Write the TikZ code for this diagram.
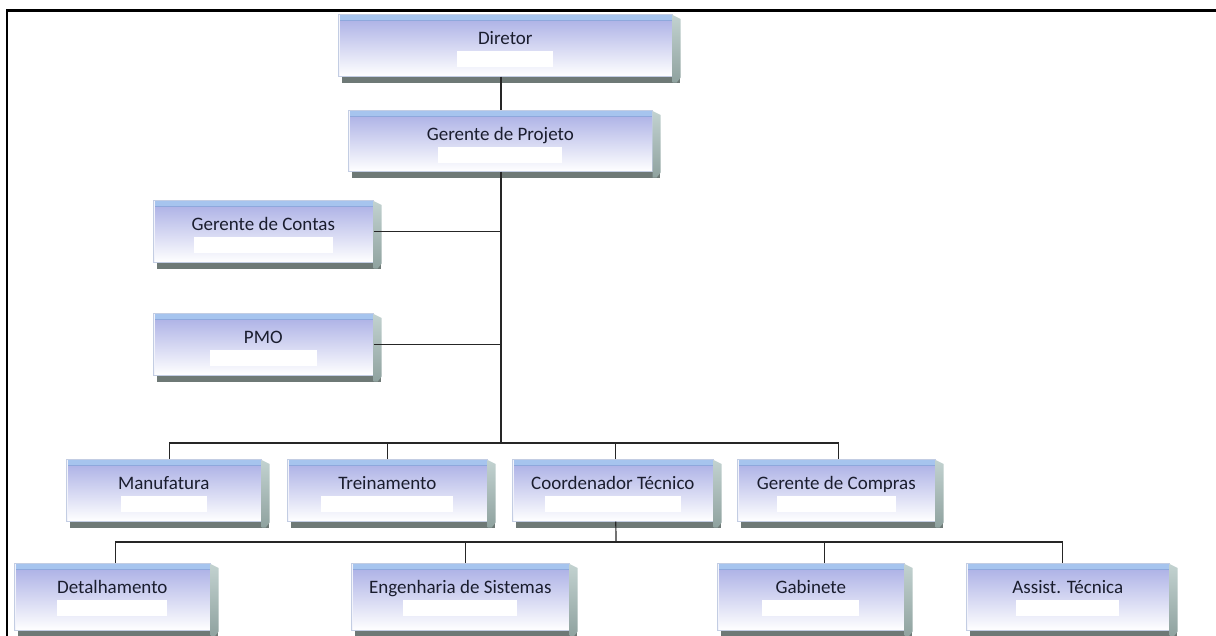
\documentclass[tikz,border=0pt]{standalone}
\usepackage{fontspec}
\setmainfont{Carlito}
\usetikzlibrary{calc}

\definecolor{lav}{HTML}{A7ACE4}
\definecolor{bevel}{HTML}{A6C4EE}
\definecolor{bevelline}{HTML}{8EA8DC}
\definecolor{sidetop}{HTML}{C2D2D0}
\definecolor{sidebot}{HTML}{8FA29F}
\definecolor{shadowcol}{HTML}{6E7976}
\definecolor{ink}{HTML}{1A1D2E}
\definecolor{edge}{HTML}{C3CDE3}
\definecolor{wirecol}{HTML}{262626}

\tikzset{
  % front face of an org-chart card: #1 width, #2 space below the baseline, #3 width of the white bar
  card/.style n args={3}{
    draw=edge, line width=0.6pt,
    top color=lav, bottom color=white, middle color=lav!50!white,
    inner sep=0pt, minimum width=#1, text height=30pt, text depth=#2,
    anchor=north west, font=\fontsize{19}{19}\selectfont, text=ink,
    path picture={
      \fill[bevel] (path picture bounding box.north west) rectangle
        ([yshift=-6pt]path picture bounding box.north east);
      \draw[bevelline, line width=0.8pt] ([yshift=-6pt]path picture bounding box.north west) --
        ([yshift=-6pt]path picture bounding box.north east);
      \fill[white!85!lav] (path picture bounding box.north west) rectangle
        ([xshift=2pt]path picture bounding box.south west);
      \fill[white] ([xshift=-#3/2, yshift=-37pt]path picture bounding box.north) rectangle
        ([xshift=#3/2, yshift=-53pt]path picture bounding box.north);
    }
  },
  wire/.style={draw=wirecol, line width=1.2pt}
}

\begin{document}
\begin{tikzpicture}[x=1pt, y=-1pt]
  \useasboundingbox (0,0) rectangle (1216,635);

  % frame
  \draw[line width=2.8pt] (7,637) -- (7,10.5) -- (1218,10.5);

  % cards
  \node[card={334pt}{32pt}{96pt}]  (dir)   at (338,14)  {Diretor};
  \node[card={304pt}{31pt}{124pt}] (gp)    at (348,110) {Gerente de Projeto};
  \node[card={220pt}{32pt}{139pt}] (gc)    at (153,200) {Gerente de Contas};
  \node[card={220pt}{32pt}{107pt}] (pmo)   at (153,313) {PMO};
  \node[card={195pt}{32pt}{86pt}]  (manu)  at (66,459)  {Manufatura};
  \node[card={200pt}{32pt}{132pt}] (trein) at (287,459) {Treinamento};
  \node[card={201pt}{32pt}{136pt}] (coord) at (512,459) {Coordenador Técnico};
  \node[card={198pt}{32pt}{119pt}] (comp)  at (737,459) {Gerente de Compras};
  \node[card={196pt}{37pt}{110pt}] (det)   at (14,563)  {Detalhamento};
  \node[card={218pt}{37pt}{114pt}] (eng)   at (351,563) {Engenharia de Sistemas};
  \node[card={187pt}{37pt}{97pt}]  (gab)   at (717,563) {Gabinete};
  \node[card={203pt}{37pt}{103pt}] (ass)   at (966,563) {Assist. Técnica};

  % 3D side and drop shadow of every card
  \foreach \n in {dir,gp,gc,pmo,manu,trein,coord,comp,det,eng,gab,ass}{
    \fill[shadowcol] ([xshift=4pt]\n.south west) rectangle ([xshift=7pt,yshift=-6pt]\n.south east);
    \shade[top color=sidetop, bottom color=sidebot]
      ([yshift=-1pt]\n.north east) -- ([xshift=8pt,yshift=-5pt]\n.north east) --
      ([xshift=8pt,yshift=-1pt]\n.south east) -- ([xshift=4pt,yshift=-6pt]\n.south east) --
      ([yshift=-6pt]\n.south east) -- cycle;
  }

  % connectors
  \coordinate (t) at (501,0);
  \coordinate (bus1) at (501,443);
  \coordinate (bus2) at (616,542);
  \draw[wire] (dir.south -| t) -- (gp.north -| t);
  \draw[wire] (gp.south -| t) -- (bus1);
  \draw[wire] (gc.east) -- (gc.east -| t);
  \draw[wire] (pmo.east) -- (pmo.east -| t);
  \draw[wire] ([xshift=6pt]manu.north) |- (bus1) -| ([xshift=2pt]comp.north);
  \draw[wire] (trein.north) -- (trein.north |- bus1);
  \draw[wire] ([xshift=3pt]coord.north) -- ([xshift=3pt]coord.north |- bus1);
  \draw[wire] ([xshift=3pt]coord.south) -- (bus2);
  \draw[wire] ([xshift=3pt]det.north) |- (bus2) -| ([xshift=-5pt]ass.north);
  \draw[wire] ([xshift=5pt]eng.north) -- ([xshift=5pt]eng.north |- bus2);
  \draw[wire] ([xshift=14pt]gab.north) -- ([xshift=14pt]gab.north |- bus2);
\end{tikzpicture}
\end{document}
